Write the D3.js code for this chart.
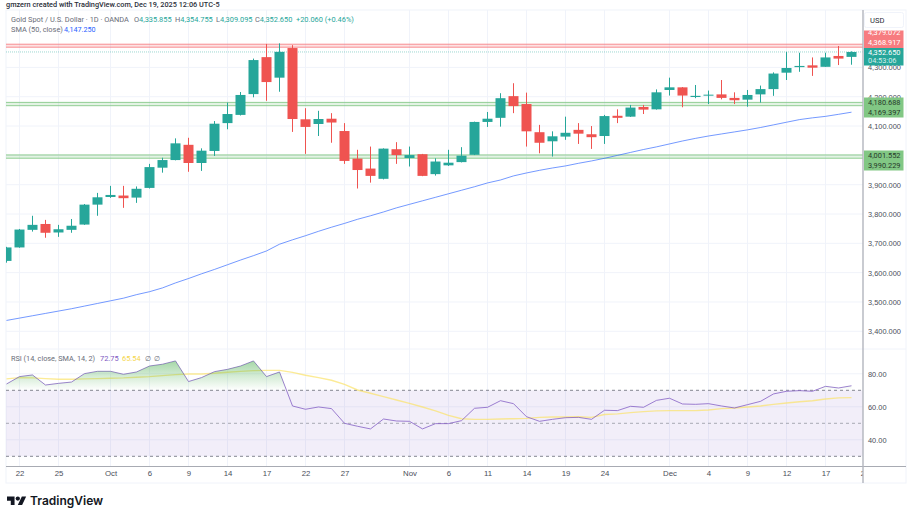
<!DOCTYPE html>
<html>
<head>
<meta charset="utf-8">
<script src="https://cdn.jsdelivr.net/npm/d3@7"></script>
<style>
  html, body { margin: 0; padding: 0; background: #fff; }
  svg { display: block; font-family: Roboto, sans-serif; }
  .domain { display: none; }
  .tick line { display: none; }
  .tick text { fill: #4a4e59; font-size: 7.4px; }
  .time .tick text { font-size: 7.8px; }
</style>
</head>
<body>
<div id="chart"></div>
<script>
// OHLC, first candle is Sep 19
const opens = [3640,3686,3746,3766,3737,3746,3764,3832,3858,3863,3856,3889,3958,3984,4036,3974,4015,4110,4138,4209,4335,4265,4366,4123,4107,4125,4083,3989,3955,3920,4021,3991,4004,3936,3966,3977,4002,4114,4128,4202,4175,4079,4048,4064,4087,4072,4066,4135,4132,4165,4157,4223,4232,4199,4204,4208,4196,4190,4208,4226,4282,4301,4307,4302,4339,4335.855];
const highs = [3688,3749,3794,3780,3763,3783,3834,3872,3896,3896,3894,3971,3992,4058,4060,4024,4117,4180,4216,4330,4380,4382,4376,4161,4152,4144,4110,4019,4030,4024,4045,4030,4005,3990,4019,4028,4115,4148,4212,4246,4214,4104,4082,4132,4110,4100,4138,4157,4172,4172,4225,4265,4233,4240,4221,4257,4215,4223,4238,4283,4353,4350,4334,4350,4373,4354.755];
const lows = [3634,3685,3740,3719,3722,3736,3763,3794,3855,3821,3838,3887,3941,3983,3944,3947,3998,4089,4136,4198,4186,4217,4080,4005,4066,4043,3971,3887,3907,3918,3971,3962,3929,3931,3964,3976,4001,4097,4098,4144,4030,4007,3996,4053,4039,4022,4039,4110,4131,4141,4156,4204,4164,4195,4175,4191,4175,4166,4180,4203,4257,4285,4271,4302,4308,4309.095];
const closes = [3686,3747,3763,3736,3748,3760,3832,3857,3865,3854,3886,3960,3984,4041,3974,4016,4108,4141,4206,4325,4250,4353,4124,4097,4124,4112,3981,3950,3930,4023,4001,4001,3930,3979,3975,3999,4114,4125,4195,4168,4082,4043,4065,4077,4074,4062,4134,4128,4163,4156,4215,4232,4204,4203,4207,4196,4188,4206,4226,4279,4298,4305,4299,4334,4330,4352.65];
const sma50 = [3437,3445,3453,3461,3469,3477,3486,3495,3504,3513,3525,3535,3548,3565,3580,3596,3611,3627,3643,3658,3674,3697,3712,3726,3741,3755,3768,3782,3794,3807,3821,3833,3845,3857,3869,3881,3893,3906,3916,3930,3940,3949,3957,3964,3973,3981,3990,4000,4010,4020,4029,4039,4049,4058,4066,4073,4080,4087,4095,4104,4113,4122,4128,4133,4140,4147.25];
const rsi = [73.8,78.3,79.3,73.2,74.2,75,80.1,81.5,81.5,79.7,81.1,84.7,85.8,87.8,75.3,77.7,81.3,82.7,84.7,87.8,78.3,81.1,60.5,58.5,59.9,58.9,50,48.2,46.6,52.6,51.4,51.2,46.6,49.8,49.8,51.6,59.1,59.7,63.7,61.9,54,51.2,52.4,53.4,53.6,52.4,57.9,57.7,60.3,59.7,63.9,65.2,61.7,61.5,61.9,60.5,59.3,61.3,63.3,67.8,69.4,69.8,69.4,72.4,71.4,72.75];
const rsiMa = [76.9,77.7,77.5,77.1,76.7,76.7,76.9,77.1,77.3,77.5,77.9,78.3,78.9,79.5,79.9,79.9,80.3,80.9,81.5,81.9,82.1,82.1,80.9,79.1,77.7,76.1,73.6,70.2,68.2,66.2,64.1,62.1,59.9,57.5,54.8,52.8,52.4,52.4,52.6,52.8,53,53.6,53.8,53.8,54,53.6,55.3,55.7,56.5,57.1,57.5,57.7,57.7,57.7,58.1,58.9,59.3,59.9,60.5,61.5,62.3,63.1,63.7,64.7,65.4,65.54];

const timeTickIdx = [1,4,8,11,14,17,20,23,26,31,34,37,40,43,46,51,54,57,60,63,66];
const timeTickLabels = ["22","25","Oct","6","9","14","17","22","27","Nov","6","11","14","19","24","Dec","4","9","12","17","22"];
const priceTicks = [3400,3500,3600,3700,3800,3900,4000,4100,4200,4300];
const rsiTicks = [40,60,80];
const rsiBands = [70,50,30];
const redZone = [4368.917,4379.072];
const greenZones = [[4169.397,4180.688],[3990.229,4001.552]];
const lastPrice = 4352.65;

const width = 912, height = 513;
const left = 6, right = 863, outerRight = 906;
const mainTop = 10, mainBottom = 349, rsiBottom = 466.5, outerBottom = 483;
const teal = "#26a69a", red = "#ef5350", zoneRed = "#f77c80", zoneGreen = "#81c784";
const gray = "#6a6d78";
const fmt = d3.format(",.3f");

const x = d3.scaleLinear().domain([0, 65]).range([6.5, 851.5]);
const y = d3.scaleLinear().domain([3400, 4300]).range([331.3, 67.4]);
const ry = d3.scaleLinear().domain([30, 70]).range([456.3, 390.3]);

const svg = d3.select("#chart").append("svg").attr("width", width).attr("height", height);
const defs = svg.append("defs");
defs.append("clipPath").attr("id", "main").append("rect")
  .attr("x", left).attr("y", mainTop).attr("width", right - left).attr("height", mainBottom - mainTop);
defs.append("clipPath").attr("id", "pane").append("rect")
  .attr("x", left).attr("y", mainBottom).attr("width", right - left).attr("height", rsiBottom - mainBottom);
defs.append("clipPath").attr("id", "over70").append("rect")
  .attr("x", left).attr("y", mainBottom).attr("width", right - left).attr("height", ry(70) - mainBottom);
defs.append("clipPath").attr("id", "timeaxis").append("rect")
  .attr("x", left).attr("y", rsiBottom).attr("width", right - left).attr("height", outerBottom - rsiBottom);
defs.append("clipPath").attr("id", "redtag").append("rect")
  .attr("x", right).attr("y", 30.5).attr("width", 42).attr("height", 18);
const grad = defs.append("linearGradient").attr("id", "over").attr("gradientUnits", "userSpaceOnUse")
  .attr("x1", 0).attr("x2", 0).attr("y1", ry(88)).attr("y2", ry(70));
grad.append("stop").attr("offset", 0).attr("stop-color", "#4caf50").attr("stop-opacity", 0.5);
grad.append("stop").attr("offset", 1).attr("stop-color", "#4caf50").attr("stop-opacity", 0);

// frame
svg.append("rect").attr("x", left).attr("y", mainTop).attr("width", outerRight - left).attr("height", outerBottom - mainTop)
  .attr("fill", "none").attr("stroke", "#f0f3fa");

// grid
const grid = svg.append("g").attr("stroke", "#f0f3fa").attr("stroke-width", 1);
grid.selectAll(".v").data(timeTickIdx.slice(0, -1)).join("line").attr("class", "v")
  .attr("x1", d => x(d)).attr("x2", d => x(d)).attr("y1", mainTop).attr("y2", rsiBottom);
grid.selectAll(".h").data(priceTicks).join("line").attr("class", "h")
  .attr("x1", left).attr("x2", right).attr("y1", d => y(d)).attr("y2", d => y(d));
grid.selectAll(".r").data(rsiTicks).join("line").attr("class", "r")
  .attr("x1", left).attr("x2", right).attr("y1", d => ry(d)).attr("y2", d => ry(d));
grid.append("line").attr("x1", left).attr("x2", outerRight).attr("y1", mainBottom).attr("y2", mainBottom);

// support / resistance zones
function drawZone(lo, hi, color, g) {
  g.append("rect").attr("x", left).attr("width", right - left)
    .attr("y", y(hi)).attr("height", y(lo) - y(hi))
    .attr("fill", color).attr("fill-opacity", 0.22);
  [lo, hi].forEach(v => g.append("line").attr("x1", left).attr("x2", right)
    .attr("y1", y(v)).attr("y2", y(v)).attr("stroke", color).attr("stroke-opacity", 0.85));
}
const zones = svg.append("g");
drawZone(redZone[0], redZone[1], zoneRed, zones);
greenZones.forEach(z => drawZone(z[0], z[1], zoneGreen, zones));

// last price dotted line
svg.append("line").attr("x1", left).attr("x2", right).attr("y1", y(lastPrice)).attr("y2", y(lastPrice))
  .attr("stroke", teal).attr("stroke-opacity", 0.45).attr("stroke-dasharray", "1,1");

// candles
const main = svg.append("g").attr("clip-path", "url(#main)");
const candle = main.selectAll("g").data(opens.map((o, i) => i)).join("g")
  .attr("fill", i => closes[i] >= opens[i] ? teal : red)
  .attr("stroke", i => closes[i] >= opens[i] ? teal : red);
candle.append("line")
  .attr("x1", i => x(i)).attr("x2", i => x(i))
  .attr("y1", i => y(highs[i])).attr("y2", i => y(lows[i]))
  .attr("stroke-width", 1);
candle.append("rect")
  .attr("x", i => x(i) - 5).attr("width", 10)
  .attr("y", i => y(Math.max(opens[i], closes[i])))
  .attr("height", i => Math.max(1, Math.abs(y(opens[i]) - y(closes[i]))))
  .attr("stroke", "none");

// SMA
main.append("path").datum(sma50)
  .attr("fill", "none").attr("stroke", "#2962ff").attr("stroke-opacity", 0.65).attr("stroke-width", 1)
  .attr("d", d3.line().x((d, i) => x(i)).y(d => y(d)));

// RSI pane
const pane = svg.append("g").attr("clip-path", "url(#pane)");
pane.append("rect").attr("x", left).attr("width", right - left)
  .attr("y", ry(70)).attr("height", ry(30) - ry(70))
  .attr("fill", "#7e57c2").attr("fill-opacity", 0.1);
pane.selectAll(".band").data(rsiBands).join("line").attr("class", "band")
  .attr("x1", left).attr("x2", right).attr("y1", d => ry(d)).attr("y2", d => ry(d))
  .attr("stroke", "#787b86").attr("stroke-dasharray", "3,3")
  .attr("stroke-opacity", d => d === 50 ? 0.6 : 0.9);
svg.append("path").datum(rsi).attr("clip-path", "url(#over70)")
  .attr("fill", "url(#over)")
  .attr("d", d3.area().x((d, i) => x(i)).y0(ry(70)).y1(d => ry(d)));
pane.append("path").datum(rsiMa)
  .attr("fill", "none").attr("stroke", "#fbe26a").attr("stroke-opacity", 0.7).attr("stroke-width", 1.4)
  .attr("d", d3.line().x((d, i) => x(i)).y(d => ry(d)));
pane.append("path").datum(rsi)
  .attr("fill", "none").attr("stroke", "#7e57c2").attr("stroke-opacity", 0.75).attr("stroke-width", 1)
  .attr("d", d3.line().x((d, i) => x(i)).y(d => ry(d)));

// axes
svg.append("g").attr("transform", `translate(${right},0)`)
  .call(d3.axisRight(y).tickValues(priceTicks).tickFormat(fmt).tickSize(0).tickPadding(5));
svg.append("g").attr("transform", `translate(${right},0)`)
  .call(d3.axisRight(ry).tickValues(rsiTicks).tickFormat(d3.format(".2f")).tickSize(0).tickPadding(5));
svg.append("g").attr("clip-path", "url(#timeaxis)")
  .append("g").attr("class", "time").attr("transform", `translate(0,${rsiBottom})`)
  .call(d3.axisBottom(x).tickValues(timeTickIdx).tickFormat((d, i) => timeTickLabels[i]).tickSize(0).tickPadding(4));
svg.append("line").attr("x1", left).attr("x2", outerRight).attr("y1", rsiBottom).attr("y2", rsiBottom)
  .attr("stroke", "#a8abb3");
svg.append("line").attr("x1", right).attr("x2", right).attr("y1", mainTop).attr("y2", outerBottom)
  .attr("stroke", "#b2b5be").attr("stroke-width", 1.4);

// price tags
function tag(top, h, color) {
  svg.append("rect").attr("x", right + 1).attr("width", 39.5).attr("y", top).attr("height", h).attr("fill", color);
}
function tagText(t, cy, fill) {
  return svg.append("text").attr("x", right + 5).attr("y", cy).attr("dy", "0.35em")
    .attr("font-size", 7.4).attr("fill", fill).text(t);
}
tag(30.5, 17.5, zoneRed);
tagText(fmt(redZone[1]), 32, "#fff").attr("clip-path", "url(#redtag)");
tagText(fmt(redZone[0]), 42, "#fff");
tag(48, 17.5, teal);
tagText(fmt(lastPrice), 52, "#fff");
tagText("04:53:06", 60.5, "#d3eeeb");
tag(97.5, 20, zoneGreen);
tagText(fmt(greenZones[0][1]), 102, "#26392a");
tagText(fmt(greenZones[0][0]), 112.5, "#26392a");
tag(150.5, 20, zoneGreen);
tagText(fmt(greenZones[1][1]), 155, "#26392a");
tagText(fmt(greenZones[1][0]), 165, "#26392a");

// currency box
svg.append("rect").attr("x", 864.5).attr("y", 12.5).attr("width", 39).attr("height", 15).attr("rx", 2)
  .attr("fill", "#fff").attr("stroke", "#f0f3fa");
svg.append("text").attr("x", 870).attr("y", 20.5).attr("dy", "0.35em").attr("font-size", 7.6)
  .attr("fill", "#2a2e39").text("USD");

// header text
function label(px, py, size, parts) {
  const t = svg.append("text").attr("x", px).attr("y", py).attr("dy", "0.35em").attr("font-size", size);
  parts.forEach(p => t.append("tspan").attr("fill", p[1]).text(p[0]));
  return t;
}
label(6, 4, 7.3, [["gmzern created with TradingView.com, Dec 19, 2025 12:06 UTC-5", "#2a2e39"]]).attr("font-weight", 500);
label(11, 19, 7.4, [["Gold Spot / U.S. Dollar · 1D · OANDA", gray]]);
[["O", "4,335.855", 134], ["H", "4,354.755", 175], ["L", "4,309.095", 216], ["C", "4,352.650", 255]]
  .forEach(d => label(d[2], 19, 7.4, [[d[0], gray], [d[1], teal]]));
label(296, 19, 7.4, [["+20.060 (+0.46%)", teal]]);
label(11, 29, 7.4, [["SMA (50, close)", gray]]);
label(64, 29, 7.2, [["4,147.250", "#2962ff"]]);
label(11, 358, 7.3, [["RSI (14, close, SMA, 14, 2)", gray]]);
label(100, 358, 7.4, [["72.75", "#7e57c2"]]);
label(122, 358, 7.4, [["65.54", "#f5d547"]]);
label(144.5, 358, 7.4, [["∅", gray]]);
label(153.5, 358, 7.4, [["∅", gray]]);

// TradingView mark
const logo = svg.append("g").attr("transform", "translate(7,493.2) scale(0.54)").attr("fill", "#131722");
logo.append("path").attr("d", "M14 6H0v8h7v8h7V6ZM28 22h-8l7.5-16h8L28 22Z");
logo.append("circle").attr("cx", 20).attr("cy", 10).attr("r", 4);
svg.append("text").attr("x", 30).attr("y", 501).attr("dy", "0.35em")
  .attr("font-family", "Inter, sans-serif").attr("font-weight", 600).attr("font-size", 12)
  .attr("fill", "#131722").text("TradingView");
</script>
</body>
</html>
